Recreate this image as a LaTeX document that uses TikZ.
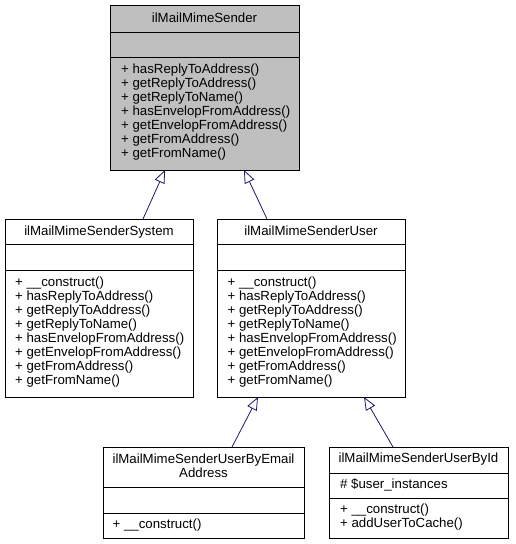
\documentclass[tikz,border=0pt]{standalone}
\usepackage{fontspec}
\setmainfont{Liberation Sans}
\usetikzlibrary{arrows.meta}
\definecolor{edgeblue}{HTML}{191970}
\definecolor{basefill}{HTML}{BFBFBF}
\tikzset{
  classbox/.style={draw=black, line width=0.9pt, rectangle, inner sep=0pt, anchor=north west, fill=white},
  sepline/.style={draw=black, line width=0.9pt},
  titletext/.style={anchor=base, inner sep=0pt, font=\fontsize{13.25}{14}\selectfont},
  membertext/.style={anchor=base west, inner sep=0pt, font=\fontsize{13.25}{14}\selectfont},
  inherit/.style={draw=edgeblue, line width=0.8pt, -{Triangle[open, length=13pt, width=10.5pt, line width=0.8pt]}}
}
\newcommand\classlines[4]{%
  \foreach \mline [count=\mcount from 0] in {#4} {
    \node[membertext] (#1-\mcount) at (#2, #3+14*\mcount) {\mline};
  }}
\begin{document}
\begin{tikzpicture}[x=1pt, y=-1pt]
\useasboundingbox (0,0) rectangle (515,544);
\fill[white] (0,0) rectangle (515,544);

% ---- base class
\node[classbox, fill=basefill, minimum width=189pt, minimum height=165pt] (base) at (110,5) {};
\draw[sepline] (110,32) -- (299,32);
\draw[sepline] (110,57) -- (299,57);
\node[titletext] (base-title) at (204.5,22) {ilMailMimeSender};
\classlines{basem}{121}{73}{+ hasReplyToAddress(), + getReplyToAddress(), + getReplyToName(), + hasEnvelopFromAddress(), + getEnvelopFromAddress(), + getFromAddress(), + getFromName()}

% ---- system
\node[classbox, minimum width=188pt, minimum height=178pt] (sys) at (5,219) {};
\draw[sepline] (5,244) -- (193,244);
\draw[sepline] (5,270) -- (193,270);
\node[titletext] (sys-title) at (99,235.5) {ilMailMimeSenderSystem};
\classlines{sysm}{15}{286.5}{+ \_\_construct(), + hasReplyToAddress(), + getReplyToAddress(), + getReplyToName(), + hasEnvelopFromAddress(), + getEnvelopFromAddress(), + getFromAddress(), + getFromName()}

% ---- user
\node[classbox, minimum width=188pt, minimum height=178pt] (user) at (217,219) {};
\draw[sepline] (217,244) -- (405,244);
\draw[sepline] (217,270) -- (405,270);
\node[titletext] (user-title) at (311,235.5) {ilMailMimeSenderUser};
\classlines{userm}{227.5}{286.5}{+ \_\_construct(), + hasReplyToAddress(), + getReplyToAddress(), + getReplyToName(), + hasEnvelopFromAddress(), + getEnvelopFromAddress(), + getFromAddress(), + getFromName()}

% ---- by email
\node[classbox, minimum width=201pt, minimum height=91pt] (email) at (103,447) {};
\draw[sepline] (103,487) -- (304,487);
\draw[sepline] (103,513) -- (304,513);
\node[titletext] (email-title1) at (203.5,463.5) {ilMailMimeSenderUserByEmail};
\node[titletext] (email-title2) at (203.5,477.5) {Address};
\classlines{emailm}{112.5}{528}{+ \_\_construct()}

% ---- by id
\node[classbox, minimum width=179pt, minimum height=91pt] (byid) at (329,447) {};
\draw[sepline] (329,473) -- (508,473);
\draw[sepline] (329,498) -- (508,498);
\node[titletext] (byid-title) at (418.5,462.5) {ilMailMimeSenderUserById};
\classlines{byida}{340}{488.5}{\# \$user\_instances}
\classlines{byidm}{340}{513.5}{+ \_\_construct(), + addUserToCache()}

% ---- inheritance connectors
\coordinate (sys-up) at (143,219);
\coordinate (base-in1) at (165,170);
\coordinate (user-up) at (267,219);
\coordinate (base-in2) at (244,170);
\coordinate (email-up) at (232,447);
\coordinate (user-in1) at (258,397);
\coordinate (byid-up) at (393,447);
\coordinate (user-in2) at (364,397);
\draw[inherit] (sys-up) -- (base-in1);
\draw[inherit] (user-up) -- (base-in2);
\draw[inherit] (email-up) -- (user-in1);
\draw[inherit] (byid-up) -- (user-in2);
\end{tikzpicture}
\end{document}
